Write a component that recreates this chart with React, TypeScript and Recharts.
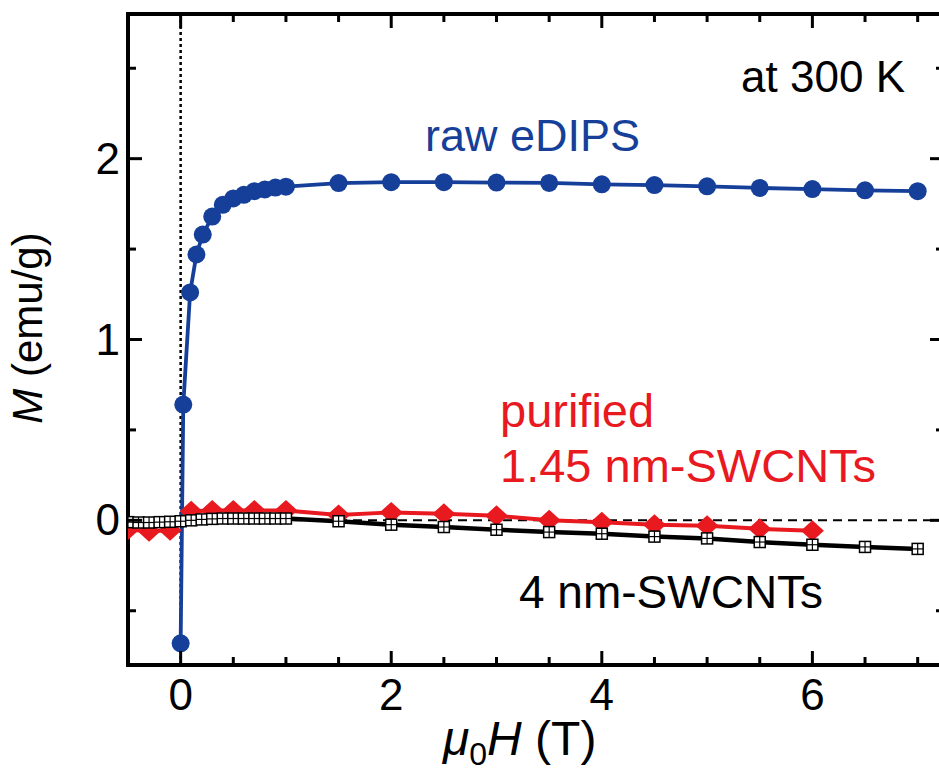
import { LineChart, Line, XAxis, YAxis, ReferenceLine } from "recharts";

const blue = "#153f99";
const red = "#e8191f";

// raw eDIPS
const rawH = [0, 0.025, 0.09, 0.15, 0.21, 0.3, 0.4, 0.5, 0.6, 0.7, 0.8, 0.9, 1.0, 1.5, 2, 2.5, 3, 3.5, 4, 4.5, 5, 5.5, 6, 6.5, 7];
const rawM = [-0.68, 0.64, 1.26, 1.47, 1.58, 1.68, 1.745, 1.78, 1.8, 1.82, 1.83, 1.84, 1.845, 1.865, 1.87, 1.87, 1.868, 1.866, 1.858, 1.854, 1.847, 1.838, 1.832, 1.825, 1.82];

// purified 1.45 nm-SWCNTs
const purH = [-0.5, -0.3, -0.1, 0.1, 0.3, 0.5, 0.7, 1.0, 1.5, 2, 2.5, 3, 3.5, 4, 4.5, 5, 5.5, 6];
const purM = [-0.05, -0.06, -0.055, 0.05, 0.055, 0.055, 0.055, 0.055, 0.03, 0.044, 0.036, 0.025, 0.0, -0.01, -0.024, -0.03, -0.047, -0.058];

// 4 nm-SWCNTs
const fourH = [-0.5, -0.4, -0.3, -0.2, -0.1, 0, 0.1, 0.2, 0.3, 0.4, 0.5, 0.6, 0.7, 0.8, 0.9, 1.0, 1.5, 2, 2.5, 3, 3.5, 4, 4.5, 5, 5.5, 6, 6.5, 7];
const fourM = [-0.01, -0.012, -0.012, -0.01, -0.008, -0.005, 0.0, 0.005, 0.008, 0.01, 0.01, 0.01, 0.01, 0.01, 0.01, 0.01, -0.005, -0.024, -0.037, -0.052, -0.065, -0.074, -0.09, -0.1, -0.12, -0.135, -0.147, -0.158];

const xTicks = [0, 0.5, 1, 1.5, 2, 2.5, 3, 3.5, 4, 4.5, 5, 5.5, 6, 6.5, 7];
const xLabels = [0, 2, 4, 6];
const yTicks = [-0.5, 0, 0.5, 1, 1.5, 2, 2.5];
const yLabels = [0, 1, 2];

const rawData = rawH.map((h, i) => ({ h, m: rawM[i] }));
const purData = purH.map((h, i) => ({ h, m: purM[i] }));
const fourData = fourH.map((h, i) => ({ h, m: fourM[i] }));

const font = "'Liberation Sans', Arial, sans-serif";
const fs = 44;

const BottomTick = (p: any) => {
  const v = p.payload.value;
  const major = xLabels.includes(v);
  return (
    <g>
      <line x1={p.x} x2={p.x} y1={p.y} y2={p.y - (major ? 14 : 8)} stroke="#000" strokeWidth={3} />
      {major && (
        <text x={p.x} y={p.y + 45} textAnchor="middle" fontSize={fs} fontFamily={font} fill="#000">
          {v}
        </text>
      )}
    </g>
  );
};

const TopTick = (p: any) => {
  const major = xLabels.includes(p.payload.value);
  return <line x1={p.x} x2={p.x} y1={p.y} y2={p.y + (major ? 14 : 8)} stroke="#000" strokeWidth={3} />;
};

const LeftTick = (p: any) => {
  const v = p.payload.value;
  const major = yLabels.includes(v);
  return (
    <g>
      <line x1={p.x} x2={p.x + (major ? 14 : 8)} y1={p.y} y2={p.y} stroke="#000" strokeWidth={3} />
      {major && (
        <text x={p.x - 8} y={p.y + 15} textAnchor="end" fontSize={fs} fontFamily={font} fill="#000">
          {v}
        </text>
      )}
    </g>
  );
};

const RightTick = (p: any) => {
  const major = yLabels.includes(p.payload.value);
  return <line x1={p.x} x2={p.x - (major ? 14 : 8)} y1={p.y} y2={p.y} stroke="#000" strokeWidth={3} />;
};

const CircleDot = (p: any) => <circle key={p.index} cx={p.cx} cy={p.cy} r={9} fill={blue} />;

const DiamondDot = (p: any) => (
  <polygon
    key={p.index}
    points={`${p.cx},${p.cy - 10.5} ${p.cx + 11.5},${p.cy} ${p.cx},${p.cy + 10.5} ${p.cx - 11.5},${p.cy}`}
    fill={red}
  />
);

const SquareDot = (p: any) => {
  const s = 5.5;
  return (
    <g key={p.index}>
      <rect x={p.cx - s} y={p.cy - s} width={2 * s} height={2 * s} fill="#fff" stroke="#000" strokeWidth={1.5} />
      <line x1={p.cx} x2={p.cx} y1={p.cy - s} y2={p.cy + s} stroke="#000" strokeWidth={1.2} />
      <line x1={p.cx - s} x2={p.cx + s} y1={p.cy} y2={p.cy} stroke="#000" strokeWidth={1.2} />
    </g>
  );
};

const frame = { stroke: "#000", strokeWidth: 4, strokeLinecap: "square" as const };

export default function App() {
  return (
    <div style={{ position: "absolute", left: 0, top: 0, width: 939, height: 771, overflow: "hidden", background: "#fff" }}>
      <LineChart width={960} height={771} margin={{ top: 13, right: 15, bottom: 105, left: 127 }}>
        <XAxis
          xAxisId="b"
          type="number"
          dataKey="h"
          domain={[-0.5, 7.25]}
          allowDataOverflow
          ticks={xTicks}
          interval={0}
          height={1}
          tickSize={0}
          tickMargin={0}
          axisLine={frame}
          tickLine={false}
          tick={BottomTick}
        />
        <XAxis
          xAxisId="t"
          orientation="top"
          type="number"
          dataKey="h"
          domain={[-0.5, 7.25]}
          allowDataOverflow
          ticks={xTicks}
          interval={0}
          height={1}
          tickSize={0}
          tickMargin={0}
          axisLine={frame}
          tickLine={false}
          tick={TopTick}
        />
        <YAxis
          yAxisId="l"
          type="number"
          domain={[-0.8, 2.8]}
          allowDataOverflow
          ticks={yTicks}
          interval={0}
          width={1}
          tickSize={0}
          tickMargin={0}
          axisLine={frame}
          tickLine={false}
          tick={LeftTick}
        />
        <YAxis
          yAxisId="r"
          orientation="right"
          type="number"
          domain={[-0.8, 2.8]}
          allowDataOverflow
          ticks={yTicks}
          interval={0}
          width={1}
          tickSize={0}
          tickMargin={0}
          axisLine={frame}
          tickLine={false}
          tick={RightTick}
        />
        <ReferenceLine xAxisId="b" yAxisId="l" x={0} stroke="#000" strokeWidth={2.5} strokeDasharray="3 3" />
        <ReferenceLine xAxisId="b" yAxisId="l" y={0} stroke="#000" strokeWidth={2} strokeDasharray="9 6" />
        <Line xAxisId="b" yAxisId="l" data={fourData} dataKey="m" type="linear" stroke="#000" strokeWidth={4.5} dot={false} isAnimationActive={false} />
        <Line xAxisId="b" yAxisId="l" data={purData} dataKey="m" type="linear" stroke={red} strokeWidth={4} dot={DiamondDot} isAnimationActive={false} />
        <Line xAxisId="b" yAxisId="l" data={fourData} dataKey="m" type="linear" stroke="none" dot={SquareDot} isAnimationActive={false} />
        <Line xAxisId="b" yAxisId="l" data={rawData} dataKey="m" type="linear" stroke={blue} strokeWidth={3.8} dot={CircleDot} isAnimationActive={false} />
      </LineChart>
      <svg width={939} height={771} style={{ position: "absolute", left: 0, top: 0, pointerEvents: "none" }} fontFamily={font} fontSize={fs}>
        <text x={905} y={92} textAnchor="end" fill="#000">at 300 K</text>
        <text x={425} y={151} fill={blue} fontSize={45}>raw eDIPS</text>
        <text x={500} y={427} fill={red} fontSize={47}>purified</text>
        <text x={500} y={482} fill={red} fontSize={47}>1.45 nm-SWCNTs</text>
        <text x={519} y={608} fill="#000" fontSize={46}>4 nm-SWCNTs</text>
        <text x={443} y={755} fill="#000" fontSize={48}>
          <tspan fontStyle="italic">μ</tspan>
          <tspan fontSize={32} dy={10}>0</tspan>
          <tspan fontStyle="italic" dy={-10}>H</tspan>
          <tspan> (T)</tspan>
        </text>
        <text transform="translate(42,328) rotate(-90)" textAnchor="middle" fill="#000" fontSize={42}>
          <tspan fontStyle="italic">M</tspan>
          <tspan> (emu/g)</tspan>
        </text>
      </svg>
    </div>
  );
}
